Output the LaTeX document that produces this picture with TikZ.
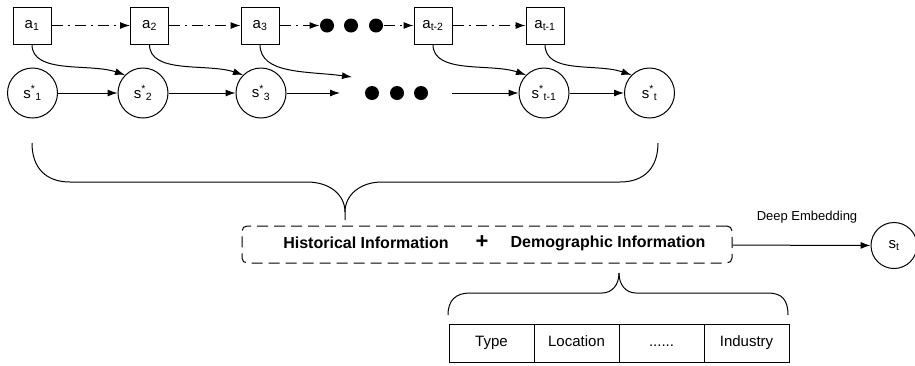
\documentclass[tikz,border=0pt]{standalone}
\usepackage{fontspec}
\setmainfont{Liberation Sans}
\usetikzlibrary{arrows.meta,positioning}

\begin{document}
\begin{tikzpicture}[x=1pt,y=-1pt,line width=1pt,
  font=\fontsize{15}{18}\selectfont,
  abox/.style={draw,minimum width=38pt,minimum height=37pt,inner sep=0pt},
  scirc/.style={draw,circle,minimum size=50pt,inner sep=0pt},
  blob/.style={circle,fill=black,minimum size=14pt,inner sep=0pt},
  cell/.style={draw,minimum width=85pt,minimum height=38pt,inner sep=0pt,outer sep=0pt,
    text height=11pt,text depth=3.5pt},
  arr/.style={-{Latex[length=10pt,width=7pt]}},
  dashdot/.style={arr,dash pattern=on 11pt off 5pt on 2pt off 5pt}]
\useasboundingbox (0,0) rectangle (915,365);

% actions
\node[abox] (a1) at (32,25.5) {a\textsubscript{1}};
\node[abox] (a2) at (149.5,25.5) {a\textsubscript{2}};
\node[abox] (a3) at (260,25.5) {a\textsubscript{3}};
\node[blob] (ta) at (327,25.5) {};
\node[blob] (tb) at (351,25.5) {};
\node[blob] (tc) at (376,25.5) {};
\node[abox] (a4) at (433,25.5) {a\textsubscript{t-2}};
\node[abox] (a5) at (545,25.5) {a\textsubscript{t-1}};

% states
\node[scirc] (s1) at (32.5,93) {s\textsuperscript{*}\textsubscript{1}};
\node[scirc] (s2) at (143,93) {s\textsuperscript{*}\textsubscript{2}};
\node[scirc] (s3) at (261,93) {s\textsuperscript{*}\textsubscript{3}};
\node[blob] (ba) at (372,93) {};
\node[blob] (bb) at (397,93) {};
\node[blob] (bc) at (421,93) {};
\node[scirc] (s4) at (544,93) {s\textsuperscript{*}\textsubscript{t-1}};
\node[scirc] (s5) at (649.5,93) {s\textsuperscript{*}\textsubscript{t}};
\coordinate (e3) at (352,77);
\coordinate (f3) at (340,93);
\coordinate (g4) at (452,93);

\draw[dashdot] (a1) -- (a2);
\draw[dashdot] (a2) -- (a3);
\draw[dashdot] (a3) -- (ta);
\draw[dashdot] (tc) -- (a4);
\draw[dashdot] (a4) -- (a5);

\draw[arr] (s1) -- (s2);
\draw[arr] (s2) -- (s3);
\draw[arr] (s3) -- (f3);
\draw[arr] (g4) -- (s4);
\draw[arr] (s4) -- (s5);

\draw[arr] (a1.south) .. controls +(0,30) and +(-35,-12) .. (s2.135);
\draw[arr] (a2.south) .. controls +(0,30) and +(-35,-12) .. (s3.135);
\draw[arr] (a3.south) .. controls +(0,30) and +(-45,-6) .. (e3);
\draw[arr] (a4.south) .. controls +(0,30) and +(-35,-12) .. (s4.135);
\draw[arr] (a5.south) .. controls +(0,30) and +(-35,-12) .. (s5.135);

% big brace
\draw (32,143) .. controls (32,168) and (46,182) .. (70,182) -- (307,182)
  .. controls (330,182) and (345,195) .. (345,212) -- (345,220);
\draw (345,212) .. controls (345,195) and (360,182) .. (382,182) -- (620,182)
  .. controls (644,182) and (658,168) .. (658,143);

% information
\node[draw,rounded corners=5pt,dash pattern=on 11pt off 6pt,minimum width=490pt,
  minimum height=37pt] (info) at (487,244.5) {};
\node[font=\fontsize{16}{19}\selectfont\bfseries] (hist) at (366,243) {Historical Information};
\node[font=\fontsize{22}{24}\selectfont\bfseries] (plus) at (482,242) {+};
\node[font=\fontsize{16}{19}\selectfont\bfseries] (demo) at (608,243) {Demographic Information};

\node[scirc,minimum size=46pt] (st) at (894,245.5) {s\textsubscript{t}};
\draw[arr] (info) -- (st);
\node[font=\fontsize{13}{15}\selectfont] (deep) at (807,217) {Deep Embedding};

% small brace
\draw (448,315) .. controls (448,300) and (456,293) .. (470,293) -- (602,293)
  .. controls (612,293) and (619,285) .. (619,273);
\draw (619,273) .. controls (619,285) and (626,293) .. (636,293) -- (768,293)
  .. controls (782,293) and (788,300) .. (788,315);

% attributes
\node[cell] (type) at (491.5,343) {Type};
\node[cell,right=0pt of type] (loc) {Location};
\node[cell,right=0pt of loc] (etc) {......};
\node[cell,right=0pt of etc] (ind) {Industry};
\end{tikzpicture}
\end{document}
